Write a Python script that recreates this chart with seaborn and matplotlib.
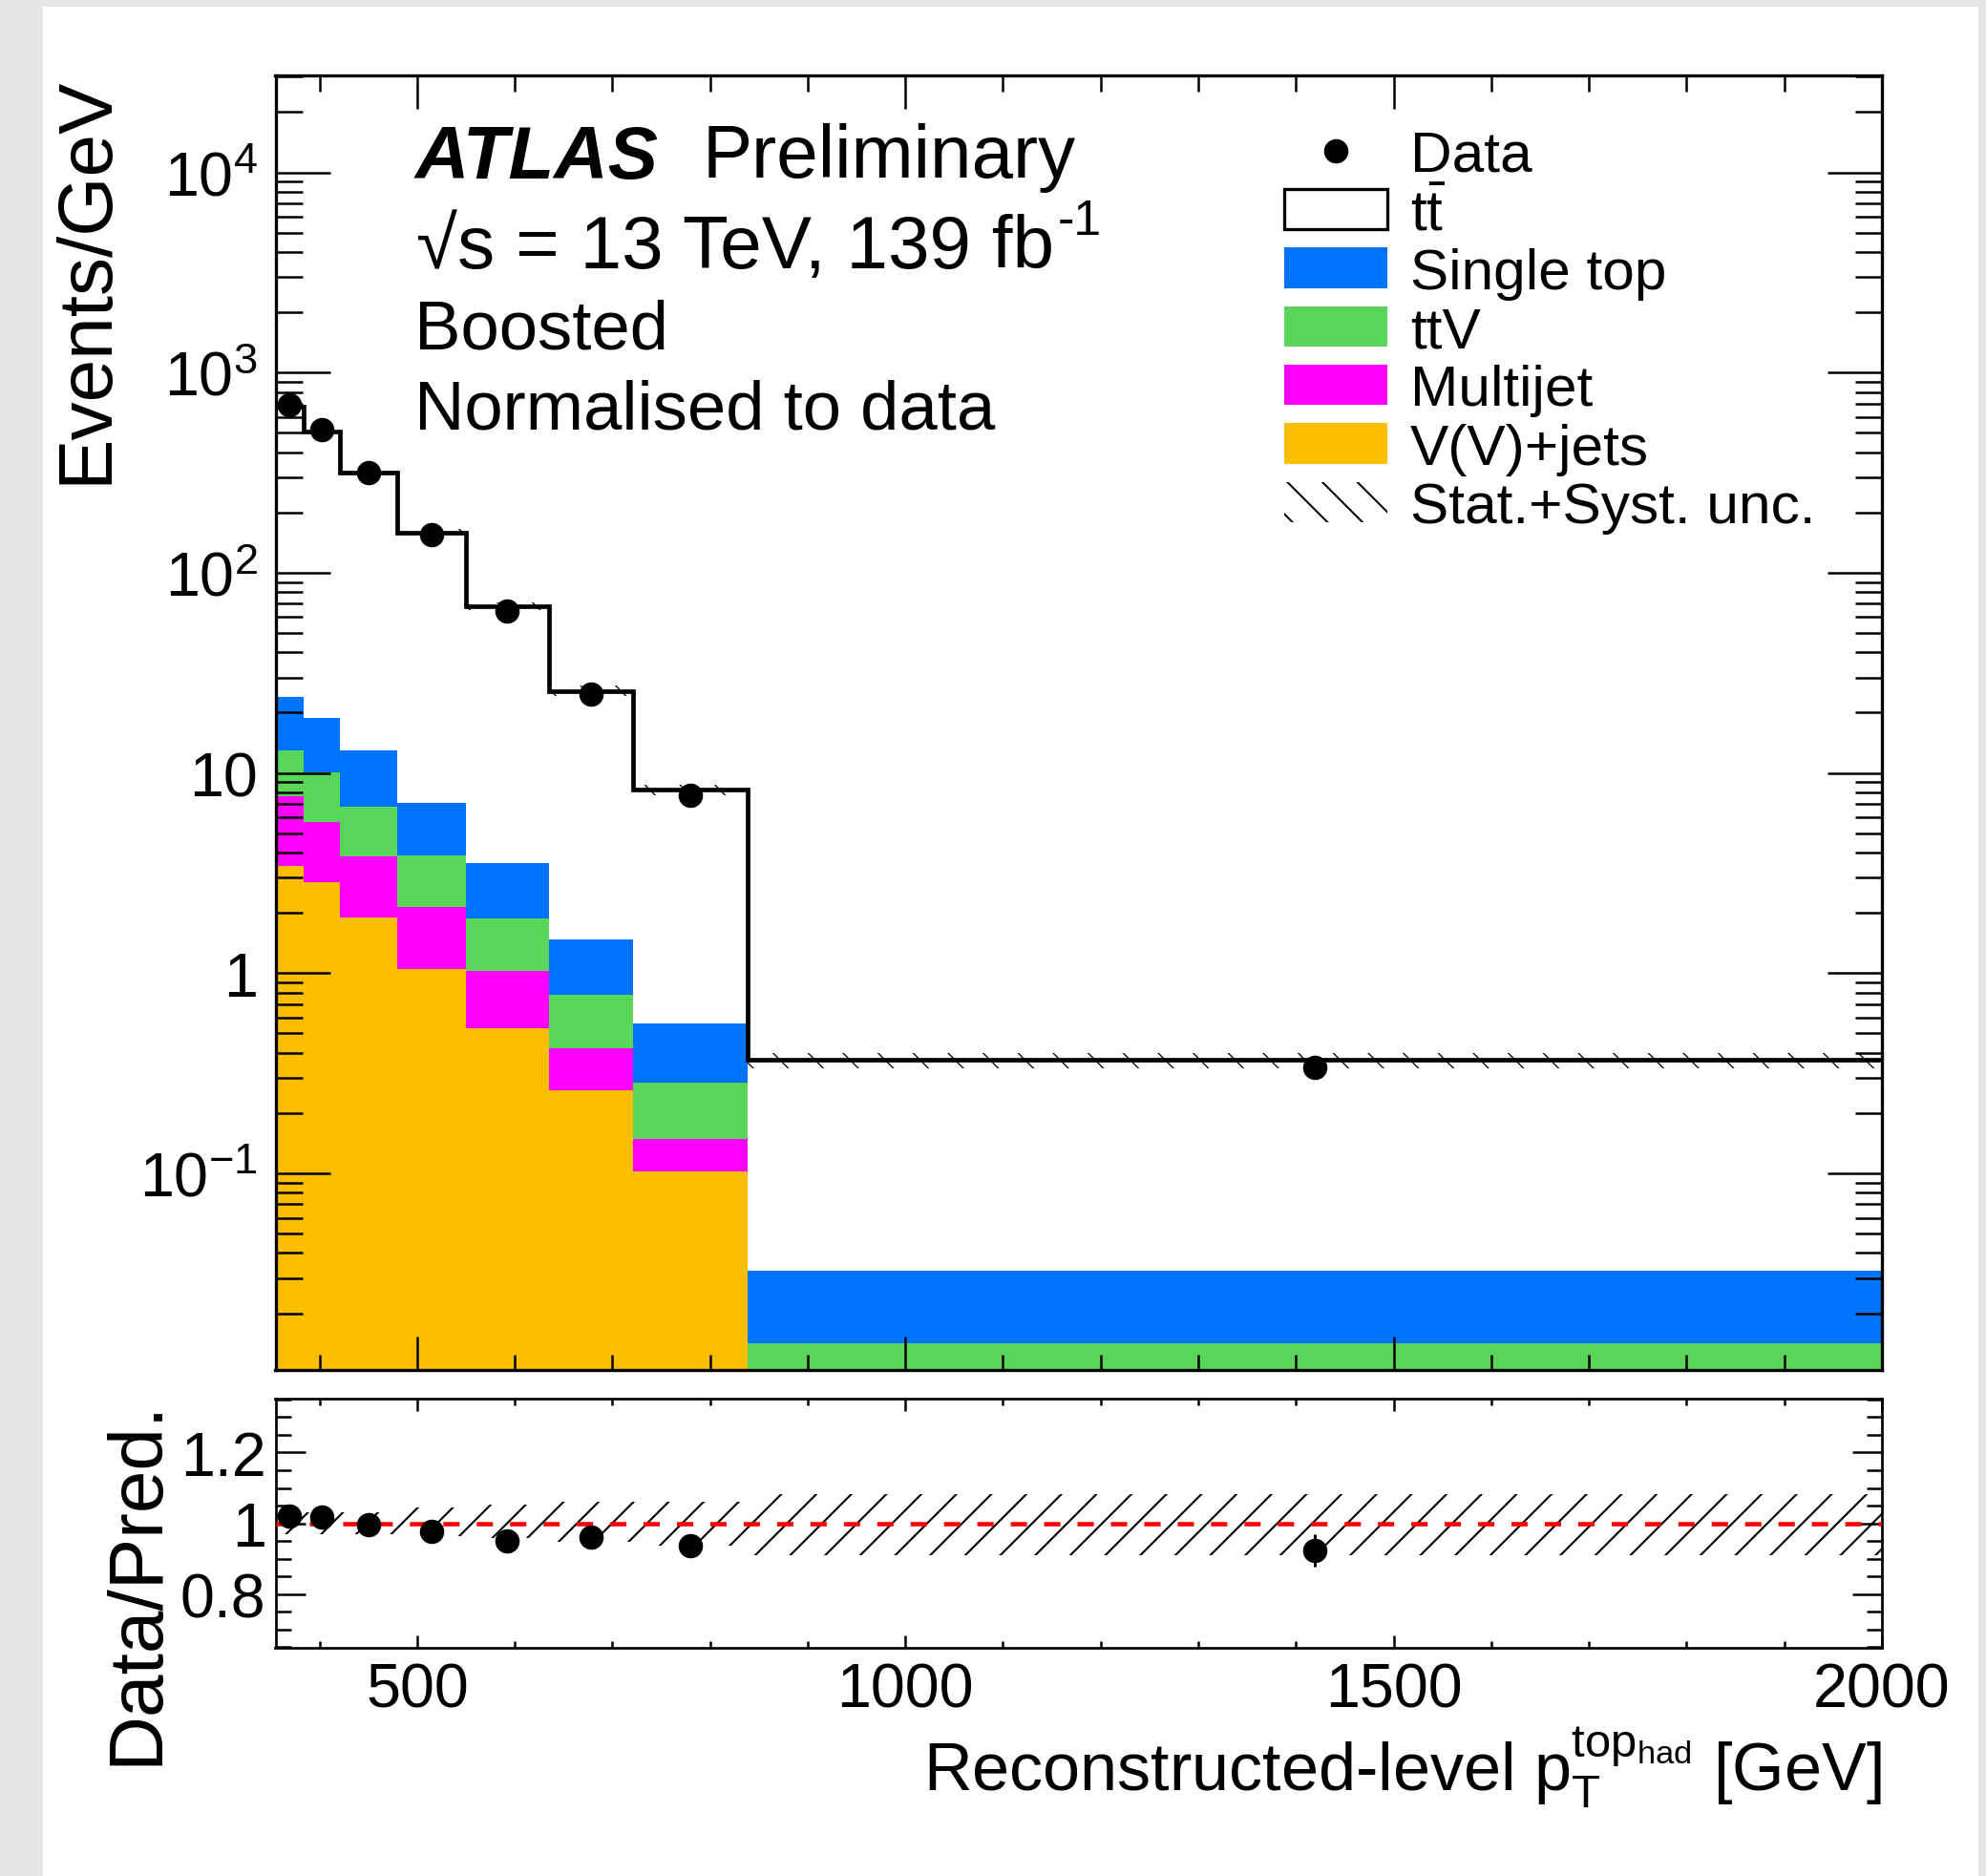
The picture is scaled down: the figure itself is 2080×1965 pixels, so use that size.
import numpy as np
import pandas as pd
import matplotlib
matplotlib.use("Agg")
import matplotlib.pyplot as plt
import seaborn as sns
from matplotlib.patches import Patch, Rectangle
from matplotlib.lines import Line2D
from matplotlib.ticker import (LogLocator, FixedLocator, MultipleLocator,
                               FuncFormatter, NullFormatter)

# ---------------- data ----------------
bin_edges = [355, 384, 421, 480, 550, 635, 721, 838, 2000]
data_vals = [690, 516, 315, 154.5, 64.5, 24.7, 7.75, 0.34]
data_err = [4.9, 3.7, 2.3, 1.5, 0.87, 0.54, 0.26, 0.017]
ttbar_vals = [652, 488, 303, 150.9, 64.3, 24.2, 7.70, 0.335]
single_top = [11.0, 8.8, 6.1, 3.24, 1.66, 0.70, 0.2765, 0.0186]
ttv_vals = [5.35, 4.39, 2.95, 1.72, 0.85, 0.358, 0.1355, 0.0092]
multijet = [4.23, 2.87, 1.96, 1.10, 0.492, 0.162, 0.0455, 0.001]
vjets = [3.42, 2.84, 1.89, 1.05, 0.528, 0.26, 0.1025, 0.004]
unc_up = [0.031, 0.031, 0.031, 0.044, 0.053, 0.062, 0.062, 0.082]
unc_down = [0.032, 0.032, 0.032, 0.036, 0.041, 0.053, 0.063, 0.089]

proc_names = ["Single top", "ttV", "Multijet", "V(V)+jets"]
proc_colors = {"Single top": "#0073ff", "ttV": "#59d55a",
               "Multijet": "#ff00ff", "V(V)+jets": "#ffbd00"}
y_major_labels = {1e-1: r"$10^{-1}$", 1: "1", 10: "10", 1e2: r"$10^{2}$",
                  1e3: r"$10^{3}$", 1e4: r"$10^{4}$"}
x_tick_values = [500, 1000, 1500, 2000]
ratio_tick_values = [0.8, 1.0, 1.2]

# ---------------- style ----------------
W, H, DPI = 2080, 1966, 110


def pt(px):
    """pixels -> points"""
    return px * 72.0 / DPI


plt.rcParams["font.family"] = ["Liberation Sans", "DejaVu Sans"]
plt.rcParams["mathtext.fontset"] = "custom"
plt.rcParams["mathtext.rm"] = "Liberation Sans"
plt.rcParams["mathtext.it"] = "Liberation Sans:italic"
plt.rcParams["mathtext.bf"] = "Liberation Sans:bold"
plt.rcParams["hatch.linewidth"] = pt(2.0)
plt.rcParams["axes.linewidth"] = pt(3.3)


def fx(px):
    return px / W


def fy(py):
    return 1 - py / H


fig = plt.figure(figsize=(W / DPI, H / DPI), dpi=DPI)
fig.patch.set_facecolor("#e6e6e6")
fig.add_artist(Rectangle((fx(45), 0), fx(2072) - fx(45), fy(8), transform=fig.transFigure,
                         facecolor="white", edgecolor="none", zorder=-10))

ax = fig.add_axes([fx(288.5), fy(1436.3), fx(1971) - fx(288.5), fy(79.6) - fy(1436.3)])
rax = fig.add_axes([fx(288.5), fy(1726.5), fx(1971) - fx(288.5), fy(1466) - fy(1726.5)])

edges = np.array(bin_edges, dtype=float)
centers = 0.5 * (edges[:-1] + edges[1:])
bkg = np.array(single_top) + np.array(ttv_vals) + np.array(multijet) + np.array(vjets)
total = np.array(ttbar_vals) + bkg
data = np.array(data_vals)
derr = np.array(data_err)
up = np.array(unc_up)
dn = np.array(unc_down)

# ---------------- main panel ----------------
df = pd.DataFrame({
    "x": np.tile(centers, len(proc_names)),
    "w": np.concatenate([single_top, ttv_vals, multijet, vjets]),
    "proc": np.repeat(proc_names, len(centers)),
})
sns.histplot(data=df, x="x", weights="w", hue="proc", hue_order=proc_names,
             palette=proc_colors, bins=bin_edges, multiple="stack", element="step",
             fill=True, stat="count", alpha=1, linewidth=0, legend=False, ax=ax)
ax.set_yscale("log", nonpositive="clip")

tot_ext = np.append(total, total[-1])
up_ext = np.append(up, up[-1])
dn_ext = np.append(dn, dn[-1])
with plt.rc_context({"hatch.linewidth": pt(1.3)}):
    ax.fill_between(edges, tot_ext * (1 - dn_ext), tot_ext * (1 + up_ext), step="post",
                    facecolor="none", edgecolor="black", hatch="\\", linewidth=0, zorder=3)
ax.stairs(total, edges, baseline=None, color="black", linewidth=pt(4.7), zorder=4)
ax.errorbar(centers, data, yerr=derr, fmt="o", color="black", ms=pt(24),
            elinewidth=pt(3), capsize=0, zorder=5)

ax.set_xlim(bin_edges[0], bin_edges[-1])
ax.set_ylim(0.01038, 30620)
ax.set_xlabel("")
ax.set_ylabel("")

ax.xaxis.set_major_locator(FixedLocator(x_tick_values))
ax.xaxis.set_minor_locator(MultipleLocator(100))
ax.yaxis.set_major_locator(LogLocator(base=10, numticks=20))
ax.yaxis.set_minor_locator(LogLocator(base=10, subs=np.arange(2, 10), numticks=200))


def ylab(v, p):
    for k, lab in y_major_labels.items():
        if abs(np.log10(v) - np.log10(k)) < 1e-6:
            return lab
    return ""


ax.yaxis.set_major_formatter(FuncFormatter(ylab))
ax.yaxis.set_minor_formatter(NullFormatter())

ax.tick_params(which="both", direction="in", top=True, right=True, width=pt(2.5))
ax.tick_params(axis="x", which="major", length=pt(35), labelbottom=False)
ax.tick_params(axis="x", which="minor", length=pt(16.5))
ax.tick_params(axis="y", which="major", length=pt(57), labelsize=pt(64.6), pad=pt(18.5))
ax.tick_params(axis="y", which="minor", length=pt(28))

# legend
with plt.rc_context({"hatch.linewidth": pt(1.3)}):
    unc_handle = Patch(facecolor="white", edgecolor="black", hatch="\\", linewidth=0)
handles = [
    Line2D([], [], marker="o", ls="none", color="black", ms=pt(24)),
    Patch(facecolor="white", edgecolor="black", linewidth=pt(3.3)),
    Patch(facecolor=proc_colors["Single top"], edgecolor="none"),
    Patch(facecolor=proc_colors["ttV"], edgecolor="none"),
    Patch(facecolor=proc_colors["Multijet"], edgecolor="none"),
    Patch(facecolor=proc_colors["V(V)+jets"], edgecolor="none"),
    unc_handle,
]
labels = ["Data", r"$\mathrm{t\bar{t}}$", "Single top", "ttV", "Multijet",
          "V(V)+jets", "Stat.+Syst. unc."]
ax.legend(handles, labels, loc="upper left", bbox_to_anchor=(fx(1344.6), fy(137)),
          bbox_transform=fig.transFigure, frameon=False, fontsize=pt(60.4),
          borderpad=0, borderaxespad=0, handlelength=1.8, handleheight=0.70,
          handletextpad=0.39, labelspacing=0.105)

# annotation texts
fig.text(fx(435), fy(186.5), "ATLAS", fontsize=pt(78.3), fontweight="bold",
         fontstyle="italic", va="baseline", ha="left")
fig.text(fx(736), fy(186.5), "Preliminary", fontsize=pt(78.3), va="baseline", ha="left")
t_lumi = fig.text(fx(436), fy(281), "\u221as = 13 TeV, 139 fb",
                  fontsize=pt(78.3), va="baseline", ha="left")
ax.annotate("-1", xy=(1, 1), xycoords=t_lumi, xytext=(pt(4), pt(16)),
            textcoords="offset points", fontsize=pt(52), va="top", ha="left",
            annotation_clip=False)
fig.text(fx(434), fy(365.5), "Boosted", fontsize=pt(72.5), va="baseline", ha="left")
fig.text(fx(434), fy(449.5), "Normalised to data", fontsize=pt(72.5), va="baseline", ha="left")

# axis titles
fig.text(fx(111.6), fy(79.6), "Events/GeV", fontsize=pt(80.2), rotation=90,
         rotation_mode="anchor", ha="right", va="baseline")
fig.text(fx(164.5), fy(1466), "Data/Pred.", fontsize=pt(80.2), rotation=90,
         rotation_mode="anchor", ha="right", va="baseline")
fig.text(fx(1971), fy(1876),
         r"Reconstructed-level $\mathrm{p}_{\mathrm{T}}^{\mathrm{top}_{\mathrm{had}}}$ [GeV]",
         fontsize=pt(70.2), ha="right", va="baseline")

# ---------------- ratio panel ----------------
ratio = data / total
with plt.rc_context({"hatch.linewidth": pt(2.1)}):
    rax.fill_between(edges, 1 - dn_ext, 1 + up_ext, step="post", facecolor="none",
                     edgecolor="black", hatch="/", linewidth=0, zorder=2)
rax.axhline(1.0, color="#ff0000", linewidth=pt(4.6), linestyle=(0, (3.7, 3.9)), zorder=3)
rax.errorbar(centers, ratio, yerr=derr / total, fmt="o", color="black", ms=pt(24),
             elinewidth=pt(3), capsize=0, zorder=5)
rax.set_xlim(bin_edges[0], bin_edges[-1])
rax.set_ylim(0.65, 1.352)
rax.xaxis.set_major_locator(FixedLocator(x_tick_values))
rax.xaxis.set_minor_locator(MultipleLocator(100))
rax.yaxis.set_major_locator(FixedLocator(ratio_tick_values))
rax.yaxis.set_minor_locator(MultipleLocator(0.05))
rax.yaxis.set_major_formatter(FuncFormatter(lambda v, p: f"{v:g}"))
rax.xaxis.set_major_formatter(FuncFormatter(lambda v, p: f"{v:g}"))
rax.tick_params(which="both", direction="in", top=True, right=True, width=pt(2.5))
rax.tick_params(axis="x", which="major", length=pt(12.7), labelsize=pt(64.6), pad=pt(15.4))
rax.tick_params(axis="x", which="minor", length=pt(6.7))
rax.tick_params(axis="y", which="major", length=pt(31), labelsize=pt(64.6), pad=pt(10))
rax.tick_params(axis="y", which="minor", length=pt(15.6))
for s in rax.spines.values():
    s.set_linewidth(pt(2.7))
rax.set_xlabel("")
rax.set_ylabel("")

fig.savefig("out.png", dpi=DPI, facecolor=fig.get_facecolor())
